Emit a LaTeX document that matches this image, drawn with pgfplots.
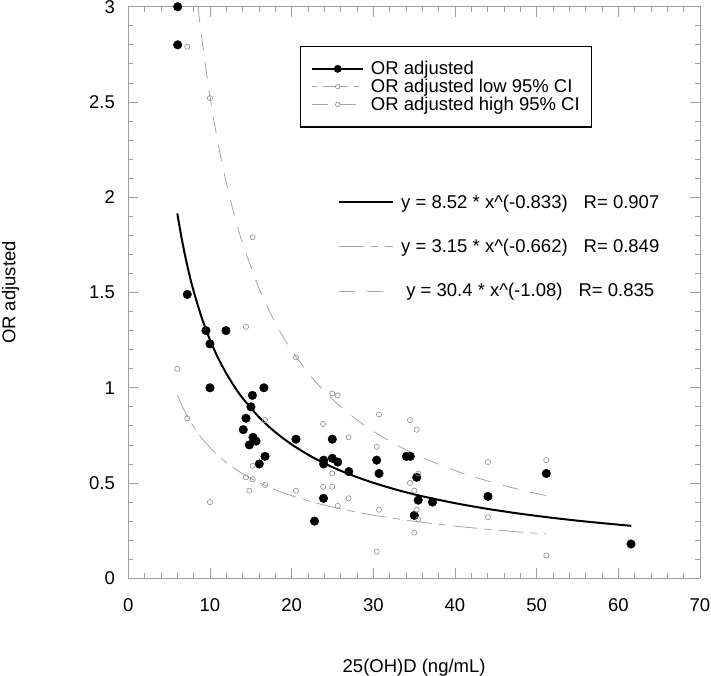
\documentclass[border=0pt]{standalone}
\usepackage{fontspec}
\setmainfont{Liberation Sans}
\usepackage{pgfplots}
\pgfplotsset{compat=1.18}
\definecolor{axgray}{HTML}{9C9C9C}
\definecolor{cigray}{HTML}{8E8E8E}
\definecolor{curvegray}{HTML}{A4A4A4}
\newcommand{\fs}{\fontsize{18.5bp}{22bp}\selectfont}
\begin{document}
\begin{tikzpicture}
\pgfplotsset{
  base/.style={scale only axis, width=571.7bp, height=571.6bp,
    xmin=0, xmax=70, ymin=0, ymax=3},
}
% ---------- fitted curves (with the equation legend) ----------
\begin{axis}[base, hide axis,
  legend style={draw=none, fill=none, at={(axis description cs:0.3668,0.5801)}, anchor=west,
    inner xsep=0pt, inner ysep=0pt, row sep=28.4bp, font=\fs,
    nodes={inner sep=0.5bp},
    /tikz/every odd column/.append style={column sep=6.5bp}},
  legend cell align=center,
  legend image code/.code={\draw[#1] (0bp,0bp) -- (54bp,0bp);},
]
\addplot[black, line width=2bp, smooth] coordinates {
 (6,1.915) (6.5,1.7917) (7,1.6845) (7.5,1.5904) (8,1.5073) (9,1.3663) (10,1.2514)
 (11,1.1560) (12,1.0752) (13,1.0058) (14,0.9455) (16,0.8460) (18,0.7670) (20,0.7026)
 (22.5,0.6369) (25,0.5834) (27.5,0.5389) (30,0.5012) (33,0.4629) (36,0.4305)
 (40,0.3944) (44,0.3643) (48,0.3388) (52,0.3170) (56,0.2980) (61.6,0.2752)};
\addlegendentry{y = 8.52 * x\textasciicircum(-0.833)\hspace{16bp}R= 0.907}
\addplot[curvegray, line width=0.8bp, smooth, dash pattern=on 25bp off 7bp on 7bp off 7bp] coordinates {
 (6,0.9619) (6.5,0.9124) (7,0.8687) (7.5,0.8299) (8,0.7952) (9,0.7356) (10,0.6860)
 (11,0.6440) (12,0.6080) (13,0.5766) (14,0.5490) (16,0.5025) (18,0.4649) (20,0.4335)
 (22.5,0.4010) (25,0.3740) (27.5,0.3511) (30,0.3315) (33,0.3112) (36,0.2938)
 (40,0.2740) (44,0.2573) (48,0.2428) (51.2,0.2327)};
\addlegendentry{y = 3.15 * x\textasciicircum(-0.662)\hspace{16bp}R= 0.849}
\addplot[curvegray, line width=0.8bp, smooth, dash pattern=on 16bp off 12bp] coordinates {
 (8.54,3.00) (9,2.8332) (10,2.5284) (11,2.2812) (12,2.0765) (13,1.9047) (14,1.7581)
 (16,1.5220) (18,1.3402) (20,1.1960) (22.5,1.0532) (25,0.9399) (27.5,0.8480)
 (30,0.7719) (33,0.6964) (36,0.6339) (40,0.5657) (44,0.5104) (48,0.4647) (51.2,0.4334)};
\addlegendentry{y = 30.4 * x\textasciicircum(-1.08)\hspace{16bp}R= 0.835}
\end{axis}
% ---------- data points, frame, ticks ----------
\begin{axis}[base,
  axis line style={axgray, line width=0.8bp},
  tick style={axgray, line width=0.8bp},
  tick align=inside,
  xtick={0,10,...,70}, ytick={0,0.5,...,3},
  minor x tick num=4, minor y tick num=4,
  major tick length=10bp, minor tick length=5bp,
  /pgf/number format/assume math mode=true,
  tick label style={font=\fs, black},
  xticklabel style={inner sep=0pt, yshift=-20bp},
  yticklabel style={inner sep=0pt, xshift=-13.3bp},
  xlabel={25(OH)D (ng/mL)}, ylabel={OR adjusted},
  xlabel style={at={(axis description cs:0.5,-0.1727)}, anchor=south, inner sep=0pt, font=\fs},
  ylabel style={at={(axis description cs:-0.2214,0.5)}, anchor=north, inner sep=0pt, font=\fs},
  legend style={at={(axis description cs:0.5555,0.8601)}, anchor=center, draw=black,
    line width=1.2bp, fill=white, font=\fs, inner xsep=11.3bp, inner ysep=14.5bp,
    row sep=1.9bp, nodes={inner sep=0.5bp},
    /tikz/every odd column/.append style={column sep=6.5bp}},
  legend cell align=left,
]
\coordinate (sw) at (rel axis cs:0,0);
\addplot[only marks, mark=*, mark size=4.3bp, black,
  legend image code/.code={\draw[black, line width=1.5bp] (0bp,0bp) -- (51bp,0bp);
    \fill[black] (25.5bp,0bp) circle (3.3bp);}] coordinates {
 (6.05,3.00) (6.05,2.80) (7.22,1.49) (9.51,1.30) (11.96,1.30) (10.0,1.23) (10.0,1.00)
 (16.6,1.00) (15.2,0.96) (15.02,0.90) (14.41,0.84) (14.08,0.78) (15.27,0.74)
 (15.64,0.72) (14.82,0.70) (20.53,0.73) (16.74,0.64) (16.04,0.60) (22.8,0.30)
 (23.92,0.62) (23.92,0.60) (23.9,0.42) (24.98,0.73) (24.98,0.63) (25.64,0.61)
 (27.0,0.56) (30.41,0.62) (30.7,0.55) (34.05,0.64) (34.53,0.64) (35.31,0.53)
 (35.5,0.41) (37.24,0.40) (35.02,0.33) (44.04,0.43) (51.18,0.55) (61.55,0.18)};
\addlegendentry{OR adjusted}
\addplot[only marks, mark=o, mark size=2.6bp, cigray, mark options={line width=0.6bp},
  legend image code/.code={\draw[curvegray, line width=0.7bp, dash pattern=on 5bp off 6bp on 25bp off 6bp] (0bp,0bp) -- (51bp,0bp);
    \draw[cigray, line width=0.6bp, fill=white] (25.5bp,0bp) circle (2.3bp);}] coordinates {
 (6.0,1.10) (7.22,0.84) (15.23,0.59) (14.41,0.53) (15.23,0.52) (16.74,0.49) (14.82,0.46)
 (20.53,0.46) (23.85,0.48) (24.98,0.48) (34.49,0.50) (26.98,0.42) (25.64,0.38)
 (30.7,0.36) (35.31,0.36) (35.5,0.31) (35.02,0.24) (30.41,0.14) (10.0,0.40)
 (44.04,0.32) (51.18,0.12)};
\addlegendentry{OR adjusted low 95\% CI}
\addplot[only marks, mark=o, mark size=2.6bp, cigray, mark options={line width=0.6bp},
  legend image code/.code={\draw[curvegray, line width=0.7bp, dash pattern=on 16bp off 12bp] (0bp,0bp) -- (51bp,0bp);
    \draw[cigray, line width=0.6bp, fill=white] (25.5bp,0bp) circle (2.3bp);}] coordinates {
 (7.22,2.79) (10.0,2.52) (15.23,1.79) (14.41,1.32) (20.53,1.16) (16.74,0.83)
 (23.85,0.81) (24.98,0.97) (25.64,0.96) (30.7,0.86) (34.49,0.83) (35.31,0.78)
 (26.98,0.74) (30.41,0.69) (35.5,0.55) (24.98,0.55) (35.02,0.46) (44.04,0.61)
 (51.18,0.62)};
\addlegendentry{OR adjusted high 95\% CI}
\end{axis}
\pgfresetboundingbox
\path[use as bounding box] ([shift={(-128.3bp,-97.7bp)}]sw) rectangle ++(711bp,676bp);
\end{tikzpicture}
\end{document}
